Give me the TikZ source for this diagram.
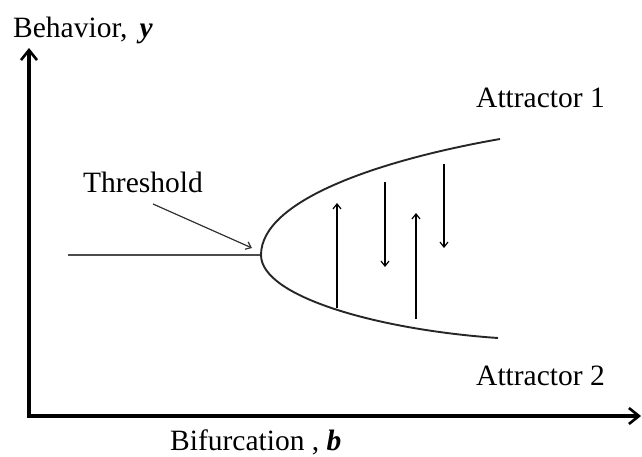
\documentclass[tikz,border=0pt]{standalone}
\usepackage{fontspec}
\setmainfont{Liberation Serif}
\usetikzlibrary{arrows.meta}
\begin{document}
\begin{tikzpicture}[x=1pt,y=-1pt,
 lbl/.style={anchor=base west,inner sep=0pt,font=\fontsize{29.5}{34}\selectfont},
 axisline/.style={line width=3.5pt,line join=miter},
 axishead/.tip={Straight Barb[length=10pt,width=16pt,line width=2.6pt]},
 flowhead/.tip={Straight Barb[length=5pt,width=8pt,line width=1.2pt]},
 flow/.style={line width=1.3pt,-{flowhead}},
 branch/.style={line width=1.9pt,black!85}]
\useasboundingbox (0,0) rectangle (642,457);
% axes
\coordinate (O) at (29,416);
\coordinate (ytip) at (29,48);
\coordinate (xtip) at (641,416);
\draw[axisline,{axishead}-{axishead}] (ytip) -- (O) -- (xtip);
% labels
\node[lbl] (ylab) at (13,38) {Behavior,\hspace{12pt}\textbf{\textit{y}}};
\node[lbl] (xlab) at (170,450) {Bifurcation , \textbf{\textit{b}}};
\node[lbl] (thr) at (83,193) {Threshold};
\node[lbl] (att1) at (476,108) {Attractor 1};
\node[lbl] (att2) at (476,385) {Attractor 2};
% stem and branches
\coordinate (stem) at (68,255);
\coordinate (vtx) at (261,255);
\coordinate (up) at (500,139);
\coordinate (lo) at (498,338);
\draw[line width=1.7pt,black!70] (stem) -- (vtx);
\draw[branch] (vtx) .. controls (261,200) and (380,160) .. (up);
\draw[branch] (vtx) .. controls (261,297) and (380,330) .. (lo);
% threshold pointer
\coordinate (tstart) at (153,204);
\coordinate (tend) at (252,248);
\draw[line width=1.2pt,black!80,-{flowhead}] (tstart) -- (tend);
% flow arrows
\coordinate (a1s) at (337,308); \coordinate (a1e) at (337,203);
\coordinate (a2s) at (385,182); \coordinate (a2e) at (385,267);
\coordinate (a3s) at (416,319); \coordinate (a3e) at (416,213);
\coordinate (a4s) at (444,164); \coordinate (a4e) at (444,248);
\draw[flow] (a1s) -- (a1e);
\draw[flow] (a2s) -- (a2e);
\draw[flow] (a3s) -- (a3e);
\draw[flow] (a4s) -- (a4e);
\end{tikzpicture}
\end{document}
